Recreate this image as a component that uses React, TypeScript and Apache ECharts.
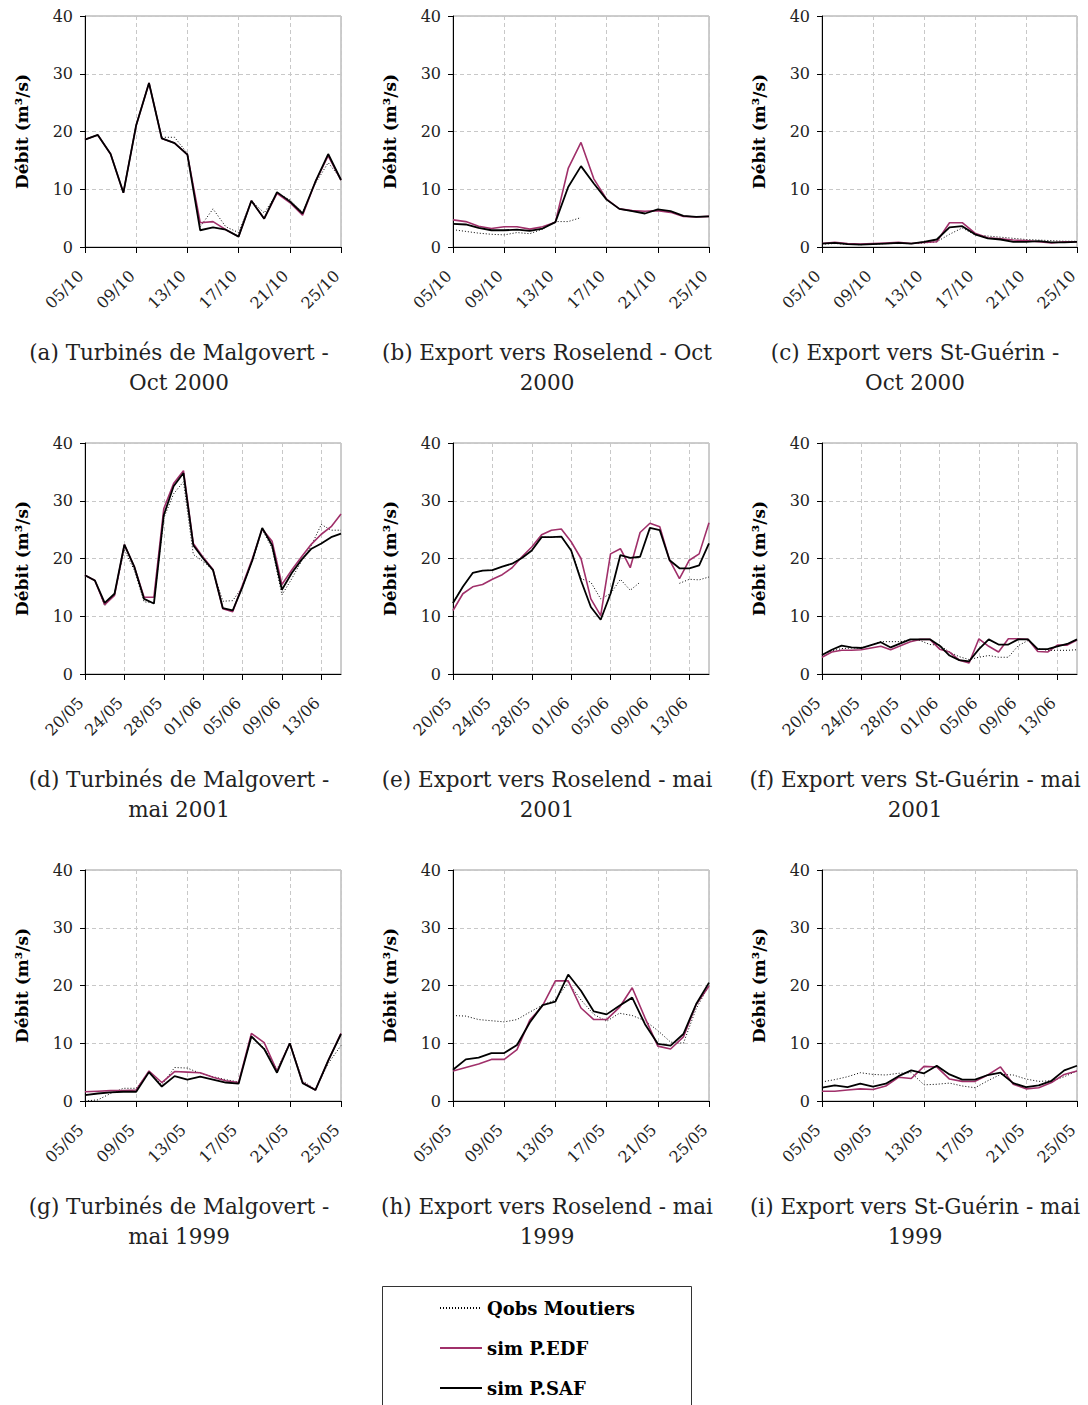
import React, { useEffect, useRef } from "react";
import * as echarts from "echarts";

const datesOct = ["05/10","06/10","07/10","08/10","09/10","10/10","11/10","12/10","13/10","14/10","15/10","16/10","17/10","18/10","19/10","20/10","21/10","22/10","23/10","24/10","25/10"];
const datesMay01 = ["20/05","21/05","22/05","23/05","24/05","25/05","26/05","27/05","28/05","29/05","30/05","31/05","01/06","02/06","03/06","04/06","05/06","06/06","07/06","08/06","09/06","10/06","11/06","12/06","13/06","14/06","15/06"];
const datesMay99 = ["05/05","06/05","07/05","08/05","09/05","10/05","11/05","12/05","13/05","14/05","15/05","16/05","17/05","18/05","19/05","20/05","21/05","22/05","23/05","24/05","25/05"];

// (a) Turbinés de Malgovert - Oct 2000
const aObs = [18.6,19.4,16.1,9.4,21.1,28.4,19.0,19.0,16.2,3.5,6.6,3.5,2.5,8.0,5.9,9.3,8.2,6.0,11.0,14.6,11.8];
const aEdf = [18.6,19.4,16.1,9.4,21.1,28.4,18.8,18.0,16.0,4.2,4.4,3.0,1.8,8.0,4.9,9.3,7.7,5.5,11.3,15.8,11.6];
const aSaf = [18.6,19.4,16.1,9.4,21.1,28.4,18.8,18.0,16.0,2.9,3.4,3.0,1.8,8.0,4.9,9.5,7.9,5.8,11.3,16.1,11.6];
// (b) Export vers Roselend - Oct 2000
const bObs = [3.0,2.7,2.4,2.2,2.1,2.5,2.3,3.1,4.4,4.4,5.1,null,null,null,null,null,null,null,null,null,null];
const bEdf = [4.7,4.4,3.6,3.2,3.5,3.5,3.1,3.5,4.3,13.6,18.1,11.8,8.3,6.6,6.3,6.2,6.3,6.0,5.3,5.2,5.3];
const bSaf = [4.0,3.9,3.3,2.9,2.9,3.0,2.8,3.2,4.3,10.4,14.0,11.0,8.2,6.6,6.2,5.8,6.5,6.2,5.4,5.2,5.3];
// (c) Export vers St-Guérin - Oct 2000
const cObs = [0.5,0.6,0.5,0.4,0.5,0.6,0.6,0.6,0.7,0.9,2.2,3.3,2.1,1.9,1.7,1.5,1.3,1.2,1.1,1.0,1.0];
const cEdf = [0.6,0.8,0.6,0.5,0.6,0.7,0.8,0.6,0.8,0.9,4.2,4.2,2.4,1.6,1.4,1.2,1.1,0.9,0.7,0.9,0.9];
const cSaf = [0.6,0.7,0.5,0.4,0.5,0.6,0.7,0.6,0.9,1.3,3.4,3.6,2.2,1.5,1.3,0.9,0.9,1.0,0.8,0.8,0.9];
// (d) Turbinés de Malgovert - mai 2001
const dObs = [17.0,16.3,11.8,14.0,21.5,18.0,12.5,12.3,27.0,31.2,33.3,20.7,19.5,18.0,12.6,12.7,15.1,19.5,25.0,21.8,13.7,16.5,19.6,22.3,25.9,24.9,24.9];
const dEdf = [17.1,16.2,12.0,13.6,22.4,18.6,13.3,13.3,28.6,33.0,35.2,22.6,20.2,18.1,11.3,10.8,15.4,20.0,25.1,23.0,15.5,18.0,20.3,22.5,24.2,25.5,27.7];
const dSaf = [17.1,16.2,12.3,13.9,22.4,18.6,13.0,12.2,27.5,32.5,34.8,22.3,20.0,18.0,11.4,11.0,15.1,19.7,25.3,22.3,14.6,17.5,19.8,21.7,22.6,23.7,24.3];
// (e) Export vers Roselend - mai 2001
const eObs = [12.3,15.1,17.5,17.9,18.0,18.6,19.1,20.1,21.4,23.7,23.7,23.8,21.4,16.5,15.9,13.0,13.9,16.4,14.5,15.9,null,null,null,15.7,16.4,16.3,16.8];
const eEdf = [11.0,13.9,15.1,15.5,16.4,17.2,18.4,20.3,22.0,24.1,24.9,25.1,22.9,20.0,13.0,10.1,20.8,21.7,18.4,24.5,26.1,25.5,19.7,16.5,19.7,20.8,26.2];
const eSaf = [12.3,15.1,17.5,17.9,18.0,18.6,19.1,20.1,21.4,23.7,23.7,23.8,21.4,16.2,11.6,9.4,13.9,20.6,20.1,20.3,25.3,24.9,19.7,18.3,18.3,18.8,22.6];
// (f) Export vers St-Guérin - mai 2001
const fObs = [3.3,4.0,4.4,4.5,4.5,5.0,5.6,5.6,5.6,5.9,5.8,5.1,5.0,3.8,3.0,2.5,2.9,3.2,2.9,2.9,4.9,5.8,4.4,4.1,4.1,4.1,4.2];
const fEdf = [2.9,3.8,4.1,4.1,4.2,4.5,4.8,4.2,4.9,5.6,6.0,6.0,4.3,3.8,2.4,1.9,6.1,4.8,3.8,6.1,6.1,6.0,3.9,3.8,5.0,5.0,5.9];
const fSaf = [3.3,4.2,4.9,4.6,4.5,5.0,5.5,4.6,5.3,6.0,6.0,6.0,4.9,3.2,2.4,2.2,4.3,6.0,5.1,5.1,6.0,6.0,4.3,4.3,4.8,5.2,6.0];
// (g) Turbinés de Malgovert - mai 1999
const gObs = [0.0,0.2,1.3,2.2,2.2,5.0,2.8,5.8,5.7,4.8,4.2,3.7,3.3,11.0,9.2,5.5,10.0,3.5,2.0,6.5,9.6];
const gEdf = [1.6,1.7,1.8,1.8,1.9,5.2,3.2,5.1,5.0,4.9,4.1,3.5,3.2,11.7,10.1,5.2,10.0,3.2,1.9,7.0,11.7];
const gSaf = [1.0,1.3,1.5,1.6,1.6,5.0,2.5,4.3,3.7,4.2,3.7,3.2,3.0,11.2,9.0,4.9,10.0,3.1,1.9,7.0,11.6];
// (h) Export vers Roselend - mai 1999
const hObs = [14.8,14.7,14.1,13.9,13.7,14.1,15.4,16.6,17.5,20.5,17.5,15.0,13.8,15.2,14.8,13.9,12.2,10.2,10.0,16.0,20.0];
const hEdf = [5.2,5.8,6.4,7.2,7.2,8.9,14.0,16.5,20.8,20.8,16.1,14.1,14.1,16.2,19.6,14.4,9.5,9.0,11.1,16.7,19.9];
const hSaf = [5.4,7.2,7.5,8.3,8.3,9.7,13.6,16.6,17.2,21.9,19.1,15.5,15.0,16.5,17.9,13.3,9.9,9.6,11.6,16.8,20.5];
// (i) Export vers St-Guérin - mai 1999
const iObs = [3.3,3.7,4.2,4.9,4.6,4.5,4.8,4.9,2.8,2.9,3.1,2.6,2.3,3.5,4.6,4.5,3.8,3.4,3.5,4.2,5.2];
const iEdf = [1.7,1.7,1.9,2.1,2.0,2.6,4.1,3.9,6.0,5.9,3.8,3.4,3.4,4.5,5.9,2.9,2.1,2.3,3.2,4.6,5.2];
const iSaf = [2.3,2.7,2.4,3.0,2.5,3.0,4.3,5.3,4.8,6.1,4.6,3.7,3.7,4.5,4.9,3.1,2.4,2.7,3.5,5.3,6.1];

const yTicks = [0, 10, 20, 30, 40];
const seriesNames = ["Qobs Moutiers", "sim P.EDF", "sim P.SAF"];

const captions = [
  ["(a) Turbinés de Malgovert -", "Oct 2000"],
  ["(b) Export vers Roselend - Oct", "2000"],
  ["(c) Export vers St-Guérin -", "Oct 2000"],
  ["(d) Turbinés de Malgovert -", "mai 2001"],
  ["(e) Export vers Roselend - mai", "2001"],
  ["(f) Export vers St-Guérin - mai", "2001"],
  ["(g) Turbinés de Malgovert -", "mai 1999"],
  ["(h) Export vers Roselend - mai", "1999"],
  ["(i) Export vers St-Guérin - mai", "1999"],
];

const panels = [
  { dates: datesOct, obs: aObs, edf: aEdf, saf: aSaf },
  { dates: datesOct, obs: bObs, edf: bEdf, saf: bSaf },
  { dates: datesOct, obs: cObs, edf: cEdf, saf: cSaf },
  { dates: datesMay01, obs: dObs, edf: dEdf, saf: dSaf },
  { dates: datesMay01, obs: eObs, edf: eEdf, saf: eSaf },
  { dates: datesMay01, obs: fObs, edf: fEdf, saf: fSaf },
  { dates: datesMay99, obs: gObs, edf: gEdf, saf: gSaf },
  { dates: datesMay99, obs: hObs, edf: hEdf, saf: hSaf },
  { dates: datesMay99, obs: iObs, edf: iEdf, saf: iSaf },
];

const FONT = "'DejaVu Serif', serif";
const MAGENTA = "#a0306a";
const colLeft = [85, 453, 822];
const colWidth = [256, 256, 255];
const rowTop = [16, 443, 870];
const rowHeight = 231;
const capCenter = [179, 547, 915];
const capY = [352, 779, 1206];

export default function App() {
  const ref = useRef<HTMLDivElement>(null);
  useEffect(() => {
    if (!ref.current) return;
    const chart = echarts.init(ref.current, null, { renderer: "svg" });
    const grid: any[] = [];
    const xAxis: any[] = [];
    const yAxis: any[] = [];
    const series: any[] = [];
    const graphic: any[] = [];
    panels.forEach((p, k) => {
      const r = Math.floor(k / 3);
      const c = k % 3;
      grid.push({
        left: colLeft[c], top: rowTop[r], width: colWidth[c], height: rowHeight,
        show: true, borderColor: "#9a9a9a", borderWidth: 1, backgroundColor: "transparent",
      });
      xAxis.push({
        type: "category", gridIndex: k, data: p.dates, boundaryGap: false,
        axisLine: { lineStyle: { color: "#000", width: 1 } },
        axisTick: { show: true, interval: 3, length: 6, lineStyle: { color: "#000" } },
        axisLabel: {
          interval: 3, rotate: 45, margin: 22, padding: [0, 6, 0, 0],
          fontFamily: FONT, fontSize: 16, color: "#222",
        },
        splitLine: { show: true, interval: 3, lineStyle: { color: "#c8c8c8", type: [4, 3], width: 1 } },
      });
      yAxis.push({
        type: "value", gridIndex: k, min: yTicks[0], max: yTicks[yTicks.length - 1], interval: 10,
        name: "Débit (m³/s)", nameLocation: "middle", nameGap: 55,
        nameTextStyle: { fontFamily: FONT, fontWeight: "bold", fontSize: 17, color: "#000" },
        axisLine: { show: true, lineStyle: { color: "#000", width: 1 } },
        axisTick: { show: true, length: 5, lineStyle: { color: "#000" } },
        axisLabel: { margin: 12, fontFamily: FONT, fontSize: 16, color: "#222" },
        splitLine: { show: true, lineStyle: { color: "#c8c8c8", type: [4, 3], width: 1 } },
      });
      series.push({
        name: seriesNames[0], type: "line", xAxisIndex: k, yAxisIndex: k, data: p.obs,
        symbol: "none", lineStyle: { color: "#000", width: 1, type: [1, 2] }, itemStyle: { color: "#000" },
        connectNulls: false,
      });
      series.push({
        name: seriesNames[1], type: "line", xAxisIndex: k, yAxisIndex: k, data: p.edf,
        symbol: "none", lineStyle: { color: MAGENTA, width: 1.6 }, itemStyle: { color: MAGENTA },
      });
      series.push({
        name: seriesNames[2], type: "line", xAxisIndex: k, yAxisIndex: k, data: p.saf,
        symbol: "none", lineStyle: { color: "#000", width: 1.8 }, itemStyle: { color: "#000" },
      });
      const cap = captions[k];
      graphic.push({
        type: "text", x: capCenter[c], y: capY[r],
        style: { text: cap[0], fontFamily: FONT, fontSize: 21.5, fill: "#222", textAlign: "center", textVerticalAlign: "middle" },
      });
      graphic.push({
        type: "text", x: capCenter[c], y: capY[r] + 30,
        style: { text: cap[1], fontFamily: FONT, fontSize: 21.5, fill: "#222", textAlign: "center", textVerticalAlign: "middle" },
      });
    });
    graphic.push({
      type: "rect", shape: { x: 382.5, y: 1286.5, width: 309, height: 200 },
      style: { fill: "none", stroke: "#333", lineWidth: 1 },
    });
    chart.setOption({
      animation: false,
      backgroundColor: "#fff",
      grid, xAxis, yAxis, series, graphic,
      legend: {
        data: seriesNames, orient: "vertical", left: 439, top: 1299, padding: 0,
        width: 300, height: 300,
        itemWidth: 42, itemHeight: 14, itemGap: 22,
        itemStyle: { opacity: 0 },
        textStyle: { fontFamily: FONT, fontWeight: "bold", fontSize: 18, color: "#000" },
        selectedMode: false,
      },
    });
    return () => chart.dispose();
  }, []);
  return (
    <div
      ref={ref}
      style={{ position: "absolute", left: 0, top: 0, width: 1088, height: 1405 }}
    />
  );
}
